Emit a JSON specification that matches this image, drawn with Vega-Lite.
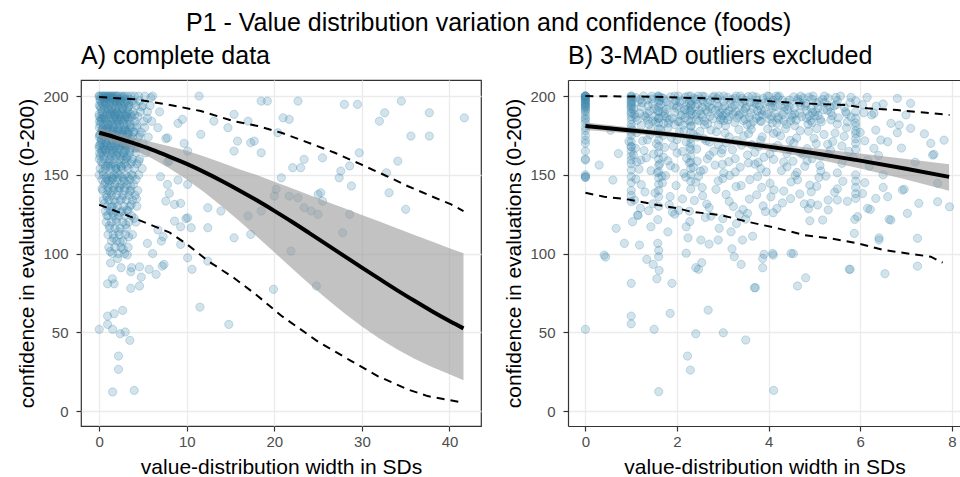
{
  "$schema": "https://vega.github.io/schema/vega-lite/v6.json",
  "background": "white",
  "padding": {"left": 16, "top": 11, "right": 0, "bottom": 0},
  "title": {
    "text": "P1 - Value distribution variation and confidence (foods)",
    "fontSize": 25,
    "anchor": "middle",
    "offset": 7
  },
  "config": {
    "font": "Liberation Sans",
    "view": {"stroke": "#333333", "strokeWidth": 1.2},
    "title": {"font": "Liberation Sans", "fontWeight": "normal", "color": "black"},
    "axis": {
      "labelFont": "Liberation Sans",
      "labelFontSize": 15,
      "labelColor": "#4d4d4d",
      "titleFont": "Liberation Sans",
      "titleFontSize": 21,
      "titleFontWeight": "normal",
      "titleColor": "black",
      "tickColor": "#333333",
      "tickSize": 5,
      "tickWidth": 1.2,
      "domain": false,
      "gridColor": "#ebebeb",
      "gridWidth": 1.3
    },
    "axisX": {"labelPadding": 3, "titlePadding": 7},
    "axisY": {"labelPadding": 8, "titlePadding": 5}
  },
  "datasets": {
    "ptsA": [
      {"x":0,"y":200},{"x":0,"y":200},{"x":0.2,"y":200},{"x":0.4,"y":200},{"x":0.5,"y":200},{"x":0.6,"y":200},{"x":0.8,"y":200},{"x":1,"y":200},{"x":1,"y":200},{"x":1.2,"y":200},{"x":1.4,"y":200},{"x":1.5,"y":200},{"x":1.6,"y":200},{"x":1.8,"y":200},{"x":2,"y":200},{"x":2,"y":200},{"x":2.3,"y":200},{"x":2.6,"y":200},{"x":2.9,"y":200},{"x":3.2,"y":200},{"x":3.6,"y":200},{"x":4,"y":200},{"x":4.5,"y":200},{"x":5.2,"y":200},{"x":6.1,"y":200},
      {"x":0.1,"y":198},{"x":0.5,"y":198},{"x":0.9,"y":198},{"x":1.3,"y":198},{"x":1.7,"y":198},{"x":2.1,"y":198},{"x":2.5,"y":198},{"x":3,"y":198},{"x":3.5,"y":198},
      {"x":0.1,"y":197},{"x":0.7,"y":197},{"x":1.3,"y":197},{"x":1.9,"y":197},{"x":2.5,"y":197},{"x":3.1,"y":197},{"x":3.8,"y":197},{"x":4.6,"y":197},
      {"x":0.3,"y":195.5},{"x":0.8,"y":195.5},{"x":1.2,"y":195.5},{"x":1.6,"y":195.5},{"x":2,"y":195.5},{"x":2.4,"y":195.5},{"x":2.9,"y":195.5},{"x":3.3,"y":195.5},
      {"x":0,"y":194},{"x":0.5,"y":194},{"x":1.1,"y":194},{"x":1.7,"y":194},{"x":2.2,"y":194},{"x":2.8,"y":194},{"x":3.4,"y":194},{"x":4.2,"y":194},{"x":5,"y":194},{"x":5.8,"y":194},
      {"x":0.2,"y":192},{"x":0.6,"y":192},{"x":1,"y":192},{"x":1.4,"y":192},{"x":1.9,"y":192},{"x":2.3,"y":192},{"x":2.7,"y":192},{"x":3.2,"y":192},
      {"x":0.3,"y":190},{"x":0.9,"y":190},{"x":1.5,"y":190},{"x":2,"y":190},{"x":2.6,"y":190},{"x":3.3,"y":190},{"x":3.9,"y":190},{"x":4.7,"y":190},{"x":5.5,"y":190},
      {"x":0,"y":188.5},{"x":0.4,"y":188.5},{"x":0.9,"y":188.5},{"x":1.3,"y":188.5},{"x":1.8,"y":188.5},{"x":2.2,"y":188.5},{"x":2.7,"y":188.5},{"x":3.1,"y":188.5},{"x":3.6,"y":188.5},
      {"x":0,"y":187},{"x":0.6,"y":187},{"x":1.2,"y":187},{"x":1.8,"y":187},{"x":2.4,"y":187},{"x":3,"y":187},{"x":3.7,"y":187},{"x":4.4,"y":187},
      {"x":0.3,"y":185.5},{"x":0.7,"y":185.5},{"x":1.1,"y":185.5},{"x":1.6,"y":185.5},{"x":2,"y":185.5},{"x":2.5,"y":185.5},{"x":2.9,"y":185.5},{"x":3.4,"y":185.5},
      {"x":0.2,"y":184},{"x":0.8,"y":184},{"x":1.4,"y":184},{"x":2.1,"y":184},{"x":2.7,"y":184},{"x":3.5,"y":184},{"x":4.1,"y":184},{"x":5.1,"y":184},{"x":6,"y":184},
      {"x":0.1,"y":182},{"x":0.5,"y":182},{"x":1,"y":182},{"x":1.4,"y":182},{"x":1.9,"y":182},{"x":2.3,"y":182},{"x":2.8,"y":182},{"x":3.2,"y":182},
      {"x":0,"y":180},{"x":0.5,"y":180},{"x":1,"y":180},{"x":1.6,"y":180},{"x":2.2,"y":180},{"x":2.9,"y":180},{"x":3.6,"y":180},{"x":4.3,"y":180},{"x":5.2,"y":180},
      {"x":0.3,"y":178.5},{"x":0.7,"y":178.5},{"x":1.2,"y":178.5},{"x":1.6,"y":178.5},{"x":2.1,"y":178.5},{"x":2.5,"y":178.5},{"x":3,"y":178.5},{"x":3.4,"y":178.5},
      {"x":0.3,"y":177},{"x":0.9,"y":177},{"x":1.5,"y":177},{"x":2,"y":177},{"x":2.6,"y":177},{"x":3.2,"y":177},{"x":3.9,"y":177},{"x":4.8,"y":177},
      {"x":0.1,"y":175.5},{"x":0.5,"y":175.5},{"x":1,"y":175.5},{"x":1.4,"y":175.5},{"x":1.8,"y":175.5},{"x":2.3,"y":175.5},{"x":2.7,"y":175.5},{"x":3.3,"y":175.5},
      {"x":0,"y":174},{"x":0.6,"y":174},{"x":1.2,"y":174},{"x":1.8,"y":174},{"x":2.5,"y":174},{"x":3.1,"y":174},{"x":3.8,"y":174},{"x":4.5,"y":174},{"x":5.6,"y":174},
      {"x":0.2,"y":172},{"x":0.6,"y":172},{"x":1.1,"y":172},{"x":1.5,"y":172},{"x":2,"y":172},{"x":2.4,"y":172},{"x":2.9,"y":172},{"x":3.4,"y":172},
      {"x":0.2,"y":170},{"x":0.8,"y":170},{"x":1.4,"y":170},{"x":2,"y":170},{"x":2.7,"y":170},{"x":3.4,"y":170},{"x":4.1,"y":170},{"x":5,"y":170},
      {"x":0,"y":168.5},{"x":0.5,"y":168.5},{"x":0.9,"y":168.5},{"x":1.3,"y":168.5},{"x":1.8,"y":168.5},{"x":2.2,"y":168.5},{"x":2.6,"y":168.5},{"x":3.1,"y":168.5},
      {"x":0,"y":167},{"x":0.5,"y":167},{"x":1.1,"y":167},{"x":1.7,"y":167},{"x":2.3,"y":167},{"x":3,"y":167},{"x":3.6,"y":167},{"x":4.4,"y":167},
      {"x":0.3,"y":165.5},{"x":0.7,"y":165.5},{"x":1.2,"y":165.5},{"x":1.6,"y":165.5},{"x":2,"y":165.5},{"x":2.5,"y":165.5},{"x":3,"y":165.5},{"x":3.5,"y":165.5},
      {"x":0.3,"y":164},{"x":0.9,"y":164},{"x":1.5,"y":164},{"x":2.1,"y":164},{"x":2.8,"y":164},{"x":3.5,"y":164},{"x":4.2,"y":164},{"x":5.3,"y":164},
      {"x":0.1,"y":162},{"x":0.5,"y":162},{"x":1,"y":162},{"x":1.4,"y":162},{"x":1.9,"y":162},{"x":2.4,"y":162},{"x":2.8,"y":162},{"x":3.3,"y":162},
      {"x":0,"y":160},{"x":0.6,"y":160},{"x":1.2,"y":160},{"x":1.8,"y":160},{"x":2.4,"y":160},{"x":3.1,"y":160},{"x":3.8,"y":160},{"x":4.6,"y":160},
      {"x":0.4,"y":157},{"x":1,"y":157},{"x":1.6,"y":157},{"x":2.2,"y":157},{"x":2.9,"y":157},{"x":3.6,"y":157},{"x":4.3,"y":157},
      {"x":0.7,"y":155.5},{"x":1.3,"y":155.5},{"x":1.9,"y":155.5},{"x":2.5,"y":155.5},{"x":3.1,"y":155.5},
      {"x":0.1,"y":154},{"x":0.7,"y":154},{"x":1.3,"y":154},{"x":1.9,"y":154},{"x":2.6,"y":154},{"x":3.3,"y":154},{"x":4,"y":154},{"x":4.9,"y":154},
      {"x":0,"y":150},{"x":0.5,"y":150},{"x":1.1,"y":150},{"x":1.7,"y":150},{"x":2.3,"y":150},{"x":3,"y":150},{"x":3.7,"y":150},{"x":4.5,"y":150},
      {"x":0.8,"y":148.5},{"x":1.4,"y":148.5},{"x":2,"y":148.5},{"x":2.6,"y":148.5},{"x":3.3,"y":148.5},
      {"x":0.3,"y":147},{"x":0.9,"y":147},{"x":1.5,"y":147},{"x":2.1,"y":147},{"x":2.8,"y":147},{"x":3.5,"y":147},{"x":4.2,"y":147},
      {"x":0.6,"y":144},{"x":1.2,"y":144},{"x":1.8,"y":144},{"x":2.5,"y":144},{"x":3.2,"y":144},{"x":3.9,"y":144},
      {"x":1,"y":142},{"x":1.6,"y":142},{"x":2.2,"y":142},{"x":2.9,"y":142},
      {"x":0.4,"y":140},{"x":1,"y":140},{"x":1.6,"y":140},{"x":2.2,"y":140},{"x":2.9,"y":140},{"x":3.6,"y":140},{"x":4.4,"y":140},
      {"x":0.8,"y":137},{"x":1.4,"y":137},{"x":2,"y":137},{"x":2.7,"y":137},{"x":3.4,"y":137},{"x":4.1,"y":137},
      {"x":0.5,"y":134},{"x":1.1,"y":134},{"x":1.7,"y":134},{"x":2.4,"y":134},{"x":3.1,"y":134},{"x":3.8,"y":134},
      {"x":0.9,"y":130},{"x":1.5,"y":130},{"x":2.1,"y":130},{"x":2.8,"y":130},{"x":3.5,"y":130},{"x":4.3,"y":130},
      {"x":0.7,"y":127},{"x":1.3,"y":127},{"x":1.9,"y":127},{"x":2.6,"y":127},{"x":3.3,"y":127},
      {"x":1,"y":124},{"x":1.6,"y":124},{"x":2.2,"y":124},{"x":2.9,"y":124},{"x":3.7,"y":124},
      {"x":0.8,"y":120},{"x":1.4,"y":120},{"x":2,"y":120},{"x":2.7,"y":120},{"x":3.4,"y":120},{"x":4.2,"y":120},
      {"x":1.2,"y":116},{"x":1.8,"y":116},{"x":2.4,"y":116},{"x":3.1,"y":116},
      {"x":1,"y":112},{"x":1.6,"y":112},{"x":2.3,"y":112},{"x":3,"y":112},{"x":3.8,"y":112},
      {"x":1.4,"y":108},{"x":2,"y":108},{"x":2.7,"y":108},
      {"x":1.1,"y":104},{"x":1.8,"y":104},{"x":2.5,"y":104},{"x":3.3,"y":104},
      {"x":1.5,"y":100},{"x":2.2,"y":100},{"x":2.9,"y":100},
      {"x":0.12,"y":193.4},{"x":0.48,"y":186.1},{"x":0.83,"y":199.2},{"x":1.07,"y":181.7},{"x":1.33,"y":190.8},{"x":1.58,"y":175.9},{"x":1.86,"y":196.4},{"x":2.11,"y":184.3},{"x":2.37,"y":170.6},{"x":2.64,"y":191.9},{"x":2.93,"y":178.2},{"x":3.21,"y":186.7},{"x":3.55,"y":172.9},{"x":3.92,"y":195.6},{"x":4.3,"y":181.4},
      {"x":0.27,"y":172.3},{"x":0.62,"y":165.8},{"x":0.9,"y":179.4},{"x":1.21,"y":158.9},{"x":1.47,"y":168.1},{"x":1.72,"y":186.9},{"x":1.99,"y":162.6},{"x":2.24,"y":177.7},{"x":2.51,"y":155.3},{"x":2.79,"y":168.9},{"x":3.08,"y":161.2},{"x":3.39,"y":176.8},{"x":3.73,"y":158.4},{"x":4.12,"y":166.9},{"x":4.65,"y":175.3},
      {"x":0.05,"y":163.7},{"x":0.41,"y":151.9},{"x":0.7,"y":145.4},{"x":0.98,"y":155.6},{"x":1.26,"y":138.9},{"x":1.52,"y":147.8},{"x":1.8,"y":132.4},{"x":2.06,"y":151.3},{"x":2.33,"y":141.7},{"x":2.6,"y":135.1},{"x":2.88,"y":145.9},{"x":3.17,"y":127.6},{"x":3.5,"y":139.4},{"x":3.85,"y":149.2},{"x":4.25,"y":134.7},
      {"x":0.58,"y":131.8},{"x":0.86,"y":124.1},{"x":1.13,"y":117.6},{"x":1.39,"y":129.3},{"x":1.66,"y":109.8},{"x":1.94,"y":121.7},{"x":2.2,"y":113.9},{"x":2.47,"y":126.2},{"x":2.74,"y":102.8},{"x":3.03,"y":118.4},{"x":3.36,"y":110.5},{"x":3.66,"y":131.1},{"x":4,"y":122.4},{"x":1.25,"y":101.3},{"x":2.1,"y":96.8},
      {"x":0.33,"y":141.2},{"x":0.18,"y":185.7},{"x":0.66,"y":195.3},{"x":1.42,"y":199.1},{"x":2.02,"y":189.5},{"x":2.7,"y":199.4},{"x":3.3,"y":193.1},{"x":4.05,"y":188.1},{"x":4.85,"y":193.2},{"x":5.5,"y":185.9},{"x":5.9,"y":199},{"x":0.38,"y":178.6},{"x":0.79,"y":170.9},{"x":1.62,"y":181.3},{"x":2.43,"y":184.8},
      {"x":3.15,"y":169.5},{"x":3.98,"y":177.3},{"x":0.22,"y":158.4},{"x":1.1,"y":146.2},{"x":1.9,"y":153.9},{"x":2.78,"y":159.7},{"x":3.6,"y":142.8},{"x":4.5,"y":158.6},{"x":1.04,"y":191.4},{"x":1.68,"y":188.2},{"x":2.28,"y":197.3},{"x":2.95,"y":187.9},{"x":3.48,"y":181.9},{"x":0.9,"y":135.7},{"x":1.57,"y":125.6},
      {"x":2.38,"y":107.2},{"x":3.2,"y":99.1},{"x":0.02,"y":183.9},{"x":0.45,"y":198.6},{"x":0.05,"y":175.4},{"x":0.1,"y":168.8},
      {"x":0,"y":51.9},{"x":0.96,"y":60.3},{"x":0.96,"y":55},{"x":1.7,"y":61.8},{"x":2.67,"y":63.9},{"x":1.53,"y":51.9},{"x":2.4,"y":49.1},{"x":2.97,"y":50.2},{"x":3.5,"y":44.9},{"x":2.2,"y":34.9},{"x":2.2,"y":26.5},{"x":1.53,"y":12.1},{"x":4,"y":13.1},
      {"x":11.5,"y":66},{"x":14.8,"y":55},{"x":19.9,"y":77.3},{"x":10.6,"y":90},{"x":7.2,"y":92},{"x":5.7,"y":90},{"x":6.5,"y":86.8},{"x":4.8,"y":85},{"x":4.6,"y":79.4},{"x":3.6,"y":77.9},{"x":0.96,"y":80.8},{"x":1.7,"y":80.8},{"x":1.5,"y":84},{"x":2.5,"y":91},{"x":3.7,"y":91},{"x":1.3,"y":94},{"x":24.8,"y":79.4},{"x":4.6,"y":91.6},{"x":3.6,"y":88.5},
      {"x":18.5,"y":196.8},{"x":19.2,"y":196.8},{"x":22.7,"y":196.8},{"x":28,"y":194.7},{"x":29.5,"y":194.7},{"x":34.5,"y":196.8},{"x":41.7,"y":186.2},{"x":37.7,"y":189.4},{"x":32.6,"y":189.4},{"x":32,"y":184.1},{"x":21,"y":186.2},{"x":21.7,"y":185.2},{"x":20.4,"y":176.7},{"x":35.6,"y":174.6},{"x":37.7,"y":174.6},
      {"x":18.5,"y":164},{"x":23.4,"y":159.8},{"x":25.5,"y":160.8},{"x":29.7,"y":164},{"x":34.1,"y":158.7},{"x":22.1,"y":154.5},{"x":23,"y":154.5},{"x":27.6,"y":152.4},{"x":28.6,"y":155.6},{"x":27.4,"y":148.1},{"x":32.8,"y":151.3},{"x":28.8,"y":142.9},{"x":33.1,"y":138.6},{"x":35,"y":128.1},
      {"x":20.2,"y":140.8},{"x":20,"y":136.5},{"x":21.7,"y":136.5},{"x":22.7,"y":135.4},{"x":23.4,"y":129.1},{"x":24.2,"y":127},{"x":25,"y":124.9},{"x":25.5,"y":133.3},{"x":25,"y":137.6},{"x":25.3,"y":138.6},{"x":28.6,"y":124.9},{"x":27.8,"y":113.2},{"x":21.9,"y":101.6},{"x":17.3,"y":112.2},{"x":18.5,"y":127},{"x":17.7,"y":171.4},{"x":20.8,"y":148.1},
      {"x":11.4,"y":200},{"x":9.5,"y":185.2},{"x":6.7,"y":179.9},{"x":7.8,"y":173.5},{"x":11.6,"y":175.7},{"x":13.1,"y":184.1},{"x":14.7,"y":179.9},{"x":15.8,"y":171.4},{"x":17.3,"y":170.4},{"x":15.4,"y":188.4},{"x":17,"y":184.1},
      {"x":8,"y":158.7},{"x":10.1,"y":165.1},{"x":15.4,"y":165.1},{"x":7.8,"y":143.9},{"x":10.1,"y":143.9},{"x":7.6,"y":133.3},{"x":8.6,"y":131.2},{"x":12.4,"y":129.1},{"x":13.9,"y":127},{"x":17,"y":123.8},{"x":10.1,"y":122.7},{"x":8.6,"y":120.6},{"x":10.5,"y":116.4},{"x":12.4,"y":116.4},{"x":15.4,"y":110},{"x":7.1,"y":107.9},{"x":9.3,"y":105.8},{"x":10.1,"y":97.3},{"x":7.4,"y":93.1},{"x":12.4,"y":95.2},
      {"x":6.9,"y":190},{"x":9,"y":182.7},{"x":7.6,"y":173},{"x":9.7,"y":170},{"x":7.8,"y":158.3},{"x":7,"y":148.8},{"x":9,"y":146.7},{"x":8,"y":138.2},{"x":9.3,"y":131.9},{"x":9.9,"y":122.2},{"x":9.3,"y":117},{"x":6.7,"y":115},{"x":7.3,"y":110.7},{"x":5.5,"y":106.5},{"x":6.1,"y":100}
    ],
    "ptsB": [
      {"x":0,"y":200},{"x":0,"y":200},{"x":0,"y":200},{"x":0,"y":200},{"x":0,"y":200},{"x":0,"y":199},{"x":0,"y":198.5},{"x":0,"y":198},{"x":0,"y":197.5},{"x":0,"y":197},{"x":0,"y":196},{"x":0,"y":195.5},{"x":0,"y":195},{"x":0,"y":194},{"x":0,"y":193.5},{"x":0,"y":193},{"x":0,"y":192},{"x":0,"y":191},{"x":0,"y":190},{"x":0,"y":188},{"x":0,"y":186},{"x":0,"y":185},{"x":0,"y":183},{"x":0,"y":180},{"x":0,"y":178},{"x":0,"y":175},{"x":0,"y":172},{"x":0,"y":170},{"x":0,"y":165},{"x":0,"y":160},{"x":0,"y":159.4},{"x":0,"y":150},{"x":0,"y":149},{"x":0,"y":148.4},{"x":0,"y":148.4},
      {"x":1,"y":200},{"x":1,"y":200},{"x":1,"y":199},{"x":1,"y":198},{"x":1,"y":197},{"x":1,"y":196},{"x":1,"y":195},{"x":1,"y":194},{"x":1,"y":193},{"x":1,"y":192},{"x":1,"y":190},{"x":1,"y":189},{"x":1,"y":187},{"x":1,"y":185},{"x":1,"y":182},{"x":1,"y":180},{"x":1,"y":177},{"x":1,"y":175},{"x":1,"y":171},{"x":1,"y":168},{"x":1,"y":167.8},{"x":1,"y":165},{"x":1,"y":162},{"x":1,"y":159.4},{"x":1,"y":157},{"x":1,"y":153},{"x":1,"y":148.8},{"x":1,"y":145},{"x":1,"y":140},{"x":1,"y":137},{"x":1,"y":133},
      {"x":1.6,"y":200},{"x":1.6,"y":199},{"x":1.6,"y":196},{"x":1.6,"y":193},{"x":1.6,"y":190},{"x":1.6,"y":186},{"x":1.6,"y":183},{"x":1.6,"y":179},{"x":1.6,"y":176},{"x":1.6,"y":172},{"x":1.6,"y":168},{"x":1.6,"y":164},{"x":1.6,"y":160},{"x":1.6,"y":156},{"x":1.6,"y":152},{"x":1.6,"y":148},{"x":1.6,"y":144},{"x":1.6,"y":140},{"x":1.6,"y":136},{"x":1.6,"y":130},
      {"x":2.3,"y":200},{"x":2.3,"y":197},{"x":2.3,"y":194},{"x":2.3,"y":191},{"x":2.3,"y":188},{"x":2.3,"y":184},{"x":2.3,"y":181},{"x":2.3,"y":177},{"x":2.3,"y":173},{"x":2.3,"y":170},{"x":2.3,"y":166},{"x":2.3,"y":162},{"x":2.3,"y":158},{"x":2.3,"y":154},{"x":2.3,"y":150},{"x":2.3,"y":146},{"x":2.3,"y":141},
      {"x":5.9,"y":190},{"x":5.9,"y":186},{"x":5.9,"y":183},{"x":5.9,"y":181},{"x":5.9,"y":178},{"x":5.9,"y":176},{"x":5.9,"y":173},{"x":5.9,"y":170},{"x":5.9,"y":166},{"x":5.9,"y":150},{"x":5.9,"y":146},{"x":5.9,"y":142},{"x":5.9,"y":138},{"x":5.9,"y":135},
      {"x":1.1,"y":199},{"x":1.1,"y":186.5},{"x":1.22,"y":193.2},{"x":1.22,"y":181.4},{"x":1.35,"y":197.6},{"x":1.35,"y":188.9},{"x":1.47,"y":184.2},{"x":1.47,"y":195},{"x":1.58,"y":200},{"x":1.58,"y":190.7},{"x":1.71,"y":187.3},{"x":1.71,"y":182.6},{"x":1.71,"y":198.4},{"x":1.83,"y":194.1},{"x":1.83,"y":185},{"x":1.95,"y":200},{"x":1.95,"y":189.6},{"x":1.95,"y":181.9},
      {"x":2.06,"y":196.2},{"x":2.06,"y":183.7},{"x":2.18,"y":191.5},{"x":2.18,"y":199.3},{"x":2.18,"y":186.2},{"x":2.31,"y":194.8},{"x":2.31,"y":181},{"x":2.42,"y":188.3},{"x":2.42,"y":197.9},{"x":2.42,"y":184.9},{"x":2.55,"y":200},{"x":2.55,"y":192.6},{"x":2.55,"y":186.8},{"x":2.67,"y":195.7},{"x":2.67,"y":182.3},{"x":2.67,"y":189.9},{"x":2.78,"y":199.1},{"x":2.78,"y":185.6},
      {"x":2.9,"y":193.4},{"x":2.9,"y":188.1},{"x":2.9,"y":181.7},{"x":3.02,"y":200},{"x":3.02,"y":196.8},{"x":3.02,"y":184.4},{"x":3.13,"y":190.6},{"x":3.13,"y":186.9},{"x":3.26,"y":198.5},{"x":3.26,"y":183.2},{"x":3.26,"y":194.3},{"x":3.38,"y":188.8},{"x":3.38,"y":200},{"x":3.49,"y":185.3},{"x":3.49,"y":192.1},{"x":3.49,"y":197.2},{"x":3.61,"y":181.6},{"x":3.61,"y":189.4},
      {"x":3.73,"y":199.4},{"x":3.73,"y":194.9},{"x":3.73,"y":186},{"x":3.84,"y":183.8},{"x":3.84,"y":191.2},{"x":3.97,"y":200},{"x":3.97,"y":188.5},{"x":4.08,"y":196.1},{"x":4.08,"y":182.9},{"x":4.08,"y":192.7},{"x":4.2,"y":186.4},{"x":4.2,"y":199},{"x":4.33,"y":190.2},{"x":4.33,"y":184.6},{"x":4.45,"y":197.4},{"x":4.45,"y":193.5},{"x":4.57,"y":181.2},{"x":4.57,"y":188.7},
      {"x":4.7,"y":200},{"x":4.7,"y":194.2},{"x":4.83,"y":185.9},{"x":4.83,"y":190.9},{"x":4.95,"y":198},{"x":4.95,"y":183.1},{"x":5.08,"y":192.4},{"x":5.08,"y":187.6},{"x":5.22,"y":200},{"x":5.22,"y":195.8},{"x":5.36,"y":184.9},{"x":5.36,"y":189.8},{"x":5.5,"y":197.1},{"x":5.5,"y":182.2},{"x":5.65,"y":192.9},{"x":5.8,"y":186.7},{"x":5.8,"y":199.2},{"x":6.05,"y":194.5},{"x":6.25,"y":188},
      {"x":1.15,"y":196.3},{"x":1.4,"y":190.4},{"x":1.65,"y":194.6},{"x":1.9,"y":185.9},{"x":2.12,"y":188.4},{"x":2.37,"y":198.7},{"x":2.6,"y":184.1},{"x":2.84,"y":191.1},{"x":3.07,"y":189.3},{"x":3.31,"y":186.1},{"x":3.55,"y":199.6},{"x":3.79,"y":187.2},{"x":4.02,"y":185.4},{"x":4.26,"y":194},{"x":4.5,"y":187.9},{"x":4.76,"y":198.8},{"x":5.02,"y":190},
      {"x":1.27,"y":200},{"x":1.52,"y":187},{"x":1.77,"y":191.7},{"x":2.01,"y":193.6},{"x":2.25,"y":184.5},{"x":2.49,"y":190.8},{"x":2.73,"y":197},{"x":2.96,"y":186.3},{"x":3.2,"y":192.5},{"x":3.44,"y":195.6},{"x":3.67,"y":183.9},{"x":3.91,"y":195.8},{"x":4.14,"y":189},{"x":4.39,"y":182.1},{"x":4.63,"y":196.9},{"x":4.89,"y":187.4},{"x":5.15,"y":183.6},{"x":5.43,"y":193.8},
      {"x":1.18,"y":189.1},{"x":1.44,"y":198.2},{"x":1.6,"y":185.8},{"x":1.76,"y":196.5},{"x":1.99,"y":192.3},{"x":2.09,"y":187.7},{"x":2.27,"y":195.9},{"x":2.46,"y":200},{"x":2.52,"y":188.6},{"x":2.7,"y":193.1},{"x":2.88,"y":198.3},{"x":3,"y":187.6},{"x":3.17,"y":195.1},{"x":3.29,"y":200},{"x":3.46,"y":190.2},{"x":3.6,"y":196.1},{"x":3.76,"y":190.7},{"x":3.88,"y":198.6},{"x":4.04,"y":193.9},
      {"x":4.17,"y":200},{"x":4.3,"y":197.3},{"x":4.42,"y":191.3},{"x":4.55,"y":199.5},{"x":4.68,"y":189.2},{"x":4.81,"y":195.3},{"x":4.97,"y":200},{"x":5.1,"y":196.4},{"x":5.28,"y":191},{"x":5.47,"y":199.1},{"x":5.7,"y":188.9},{"x":2.03,"y":200},{"x":2.6,"y":199.6},{"x":3.1,"y":199.2},{"x":3.65,"y":200},{"x":4.22,"y":185.3},{"x":4.92,"y":184.4},{"x":1.36,"y":184.7},{"x":2.95,"y":184.9},
      {"x":1.05,"y":191.8},{"x":1.13,"y":184.6},{"x":1.2,"y":197.9},{"x":1.29,"y":187.4},{"x":1.37,"y":193.9},{"x":1.45,"y":200},{"x":1.53,"y":183.5},{"x":1.62,"y":197.1},{"x":1.69,"y":190.3},{"x":1.78,"y":186.1},{"x":1.86,"y":199.5},{"x":1.93,"y":194.4},{"x":2.02,"y":183.9},{"x":2.1,"y":196.9},{"x":2.16,"y":191.1},{"x":2.24,"y":200},
      {"x":2.33,"y":188.8},{"x":2.4,"y":193.3},{"x":2.48,"y":184.3},{"x":2.57,"y":196.6},{"x":2.63,"y":191.4},{"x":2.72,"y":187.1},{"x":2.81,"y":200},{"x":2.87,"y":195.3},{"x":2.94,"y":189.4},{"x":3.04,"y":193.7},{"x":3.11,"y":184.8},{"x":3.19,"y":197.7},{"x":3.28,"y":190.1},{"x":3.35,"y":187.9},{"x":3.42,"y":198.4},{"x":3.51,"y":193},
      {"x":3.58,"y":186.6},{"x":3.66,"y":191.9},{"x":3.74,"y":197.5},{"x":3.82,"y":184.2},{"x":3.9,"y":190.4},{"x":3.99,"y":196.3},{"x":4.06,"y":187.1},{"x":4.15,"y":193.4},{"x":4.23,"y":200},{"x":4.31,"y":188.2},{"x":4.4,"y":196},{"x":4.48,"y":184.3},{"x":4.56,"y":192.5},{"x":4.64,"y":198.2},{"x":4.72,"y":186.9},{"x":4.8,"y":193.7},
      {"x":4.88,"y":199.4},{"x":4.96,"y":189.6},{"x":5.04,"y":195.7},{"x":5.13,"y":185.2},{"x":5.2,"y":191.3},{"x":5.3,"y":198.7},{"x":5.39,"y":187.5},{"x":5.48,"y":194.6},{"x":5.57,"y":200},{"x":5.68,"y":190.1},{"x":5.78,"y":195.9},{"x":6.15,"y":199.1},{"x":6.35,"y":193.6},
      {"x":1.08,"y":188.4},{"x":1.24,"y":195.8},{"x":1.39,"y":182.1},{"x":1.5,"y":191.9},{"x":1.66,"y":199.1},{"x":1.81,"y":182.8},{"x":1.97,"y":197.2},{"x":2.13,"y":181.5},{"x":2.29,"y":190.1},{"x":2.45,"y":194.9},{"x":2.6,"y":181.8},{"x":2.76,"y":192.2},{"x":2.91,"y":200},{"x":3.06,"y":181.3},{"x":3.22,"y":188.7},{"x":3.37,"y":194.6},
      {"x":3.53,"y":181.9},{"x":3.69,"y":195.5},{"x":3.86,"y":188.2},{"x":4.01,"y":199.8},{"x":4.18,"y":182.8},{"x":4.35,"y":193.1},{"x":4.52,"y":186.5},{"x":4.69,"y":195.9},{"x":4.86,"y":182.1},{"x":5.01,"y":187.4},{"x":5.18,"y":197.8},{"x":5.34,"y":193.2},{"x":5.52,"y":186.2},{"x":5.72,"y":183.6},{"x":1.32,"y":186.5},{"x":2.2,"y":193.8},
      {"x":3,"y":191.7},{"x":3.8,"y":194},{"x":4.6,"y":184.7},{"x":2.55,"y":197.5},{"x":3.45,"y":184.5},{"x":4.1,"y":197.2},{"x":1.74,"y":188.8},{"x":4.93,"y":192.3},
      {"x":0.95,"y":171.3},{"x":1.12,"y":176.8},{"x":1.12,"y":158.2},{"x":1.28,"y":165.4},{"x":1.43,"y":178.9},{"x":1.43,"y":152.6},{"x":1.55,"y":169.7},{"x":1.7,"y":161.3},{"x":1.7,"y":175.1},{"x":1.86,"y":155.8},{"x":2,"y":172.4},{"x":2,"y":163.9},{"x":2.15,"y":150.9},{"x":2.15,"y":178.2},{"x":2.28,"y":167.5},{"x":2.44,"y":158.6},{"x":2.44,"y":174},{"x":2.58,"y":153.2},
      {"x":2.71,"y":170.8},{"x":2.71,"y":162.4},{"x":2.86,"y":177.3},{"x":2.99,"y":156.7},{"x":2.99,"y":166.1},{"x":3.14,"y":173.9},{"x":3.27,"y":160.2},{"x":3.27,"y":151.8},{"x":3.41,"y":168.8},{"x":3.56,"y":176.1},{"x":3.56,"y":157.5},{"x":3.7,"y":164.3},{"x":3.83,"y":171.9},{"x":3.83,"y":153.9},{"x":3.98,"y":179.1},{"x":4.11,"y":159.8},{"x":4.11,"y":167.2},
      {"x":4.26,"y":174.7},{"x":4.4,"y":155.1},{"x":4.4,"y":163.3},{"x":4.55,"y":170.2},{"x":4.69,"y":178},{"x":4.84,"y":158.9},{"x":4.84,"y":166.6},{"x":4.99,"y":173.2},{"x":5.14,"y":152.4},{"x":5.14,"y":161.8},{"x":5.29,"y":169.4},{"x":5.45,"y":176.5},{"x":5.6,"y":157.3},{"x":5.75,"y":164.8},{"x":6.1,"y":171.6},{"x":6.4,"y":162.3},{"x":0.72,"y":163.5},{"x":0.55,"y":178.3},{"x":0.3,"y":156.2},
      {"x":1.05,"y":162.7},{"x":1.35,"y":172.2},{"x":1.62,"y":156.9},{"x":1.92,"y":168.2},{"x":2.21,"y":160.5},{"x":2.5,"y":177.6},{"x":2.8,"y":164.9},{"x":3.08,"y":170.3},{"x":3.35,"y":178.7},{"x":3.63,"y":169.1},{"x":3.9,"y":161.1},{"x":4.18,"y":177.2},{"x":4.47,"y":171.8},{"x":4.76,"y":162.9},{"x":5.05,"y":179.4},{"x":5.35,"y":165.6},{"x":5.65,"y":174.4},{"x":2.36,"y":154.7},{"x":3.02,"y":151.2},{"x":3.77,"y":157.9},{"x":4.62,"y":151.5},{"x":1.8,"y":179.6},{"x":2.64,"y":171.6},{"x":4.33,"y":158.1},
      {"x":1.02,"y":178.6},{"x":1.09,"y":166.9},{"x":1.17,"y":153.6},{"x":1.25,"y":171.5},{"x":1.33,"y":160.8},{"x":1.41,"y":175.4},{"x":1.49,"y":163.2},{"x":1.57,"y":151.4},{"x":1.64,"y":179},{"x":1.73,"y":167.4},{"x":1.8,"y":158.9},{"x":1.88,"y":173.6},{"x":1.96,"y":154.3},{"x":2.05,"y":177.1},{"x":2.12,"y":164.8},{"x":2.2,"y":170.9},
      {"x":2.27,"y":157.6},{"x":2.35,"y":176},{"x":2.43,"y":166.3},{"x":2.51,"y":152.3},{"x":2.59,"y":172.9},{"x":2.66,"y":160.1},{"x":2.74,"y":178.4},{"x":2.83,"y":156.2},{"x":2.9,"y":169.2},{"x":2.97,"y":163.8},{"x":3.05,"y":176.5},{"x":3.13,"y":158.3},{"x":3.21,"y":165.9},{"x":3.3,"y":171.8},{"x":3.38,"y":154.9},{"x":3.46,"y":174.7},
      {"x":3.54,"y":162.6},{"x":3.62,"y":178.9},{"x":3.7,"y":156.8},{"x":3.78,"y":167.9},{"x":3.86,"y":174.1},{"x":3.95,"y":151.8},{"x":4.03,"y":163.4},{"x":4.11,"y":176.3},{"x":4.2,"y":168.6},{"x":4.28,"y":152.7},{"x":4.37,"y":179.3},{"x":4.45,"y":166.1},{"x":4.53,"y":158.6},{"x":4.61,"y":173.4},{"x":4.7,"y":163.7},{"x":4.79,"y":155.4},
      {"x":4.87,"y":177.7},{"x":4.95,"y":160.3},{"x":5.04,"y":169.7},{"x":5.12,"y":155.9},{"x":5.21,"y":175.6},{"x":5.3,"y":162.9},{"x":5.4,"y":171.1},{"x":5.5,"y":151.2},{"x":5.6,"y":168.3},{"x":5.7,"y":179.8},{"x":5.85,"y":160.9},{"x":6,"y":176.9},{"x":6.2,"y":155.5},{"x":6.45,"y":172.1},
      {"x":1.1,"y":147.3},{"x":1.3,"y":139.1},{"x":1.48,"y":131.6},{"x":1.68,"y":144.8},{"x":1.85,"y":136.2},{"x":2.04,"y":127.4},{"x":2.19,"y":148.6},{"x":2.38,"y":133.7},{"x":2.55,"y":141.9},{"x":2.74,"y":123.8},{"x":2.9,"y":146.1},{"x":3.07,"y":137.5},{"x":3.23,"y":129.9},{"x":3.4,"y":143.2},{"x":3.58,"y":134.6},{"x":3.76,"y":148.9},{"x":3.93,"y":126.7},{"x":4.12,"y":140.4},{"x":4.3,"y":132.1},
      {"x":4.49,"y":145.5},{"x":4.68,"y":137.8},{"x":4.87,"y":128.5},{"x":5.05,"y":142.7},{"x":5.25,"y":149.2},{"x":5.44,"y":138.9},{"x":5.62,"y":145.9},{"x":1.58,"y":121.5},{"x":2.28,"y":120.3},{"x":3,"y":122.2},{"x":1.2,"y":128.8},{"x":2.65,"y":131.4},{"x":3.5,"y":121.9},{"x":4.05,"y":136},{"x":1.75,"y":149.5},{"x":2.47,"y":149},{"x":3.15,"y":149.6},{"x":3.85,"y":142},{"x":4.58,"y":149.7},
      {"x":1.07,"y":133.9},{"x":1.22,"y":143.7},{"x":1.38,"y":127.2},{"x":1.52,"y":138.5},{"x":1.67,"y":149.1},{"x":1.83,"y":130.9},{"x":1.98,"y":143.2},{"x":2.12,"y":134.7},{"x":2.27,"y":126.9},{"x":2.41,"y":145.3},{"x":2.56,"y":136.7},{"x":2.7,"y":129.2},{"x":2.85,"y":140.8},{"x":3,"y":147.6},{"x":3.14,"y":133.1},{"x":3.29,"y":142.5},{"x":3.44,"y":127.9},{"x":3.59,"y":146.9},{"x":3.74,"y":137.3},
      {"x":3.88,"y":130.2},{"x":4.03,"y":144.6},{"x":4.18,"y":128.6},{"x":4.33,"y":139.7},{"x":4.48,"y":134.9},{"x":4.63,"y":146.8},{"x":4.78,"y":131.5},{"x":4.93,"y":139.2},{"x":5.1,"y":148.3},{"x":5.3,"y":127.7},{"x":5.5,"y":141.1},{"x":5.72,"y":133.2},{"x":6.05,"y":138.1},{"x":1.15,"y":124.2},{"x":1.9,"y":126.3},{"x":2.62,"y":122.9},{"x":3.36,"y":124.7},{"x":4.1,"y":125.9},{"x":4.9,"y":143.4},
      {"x":0,"y":51.9},{"x":0.44,"y":97.8},{"x":1,"y":81.1},{"x":1,"y":60.3},{"x":1,"y":55.4},{"x":1.34,"y":96.3},{"x":1.48,"y":93.1},{"x":1.6,"y":98},{"x":1.61,"y":89.3},{"x":1.56,"y":84},{"x":1.5,"y":51.9},{"x":1.6,"y":12.3},{"x":1.85,"y":62},{"x":1.89,"y":81.1},{"x":2.23,"y":34.9},{"x":2.29,"y":26},{"x":2.41,"y":49.1},{"x":2.41,"y":91},{"x":2.47,"y":90},{"x":2.54,"y":94.2},{"x":2.68,"y":64.1},{"x":3.01,"y":49.7},{"x":3.25,"y":98},{"x":3.4,"y":93.1},{"x":3.5,"y":45.1},{"x":3.71,"y":78.3},{"x":3.87,"y":96.9},{"x":3.87,"y":91},{"x":4.1,"y":99},{"x":4.11,"y":13.1},{"x":4.54,"y":99.9},{"x":4.81,"y":84.6},{"x":4.63,"y":79.4},{"x":5.78,"y":90},{"x":6.54,"y":87.2},{"x":7.25,"y":92},{"x":2.2,"y":100.2},
      {"x":0.6,"y":146.7},{"x":1.21,"y":159.4},{"x":0.67,"y":116},{"x":1.03,"y":120.2},{"x":1.14,"y":124.4},{"x":0.85,"y":106.5},{"x":1.18,"y":105.4},{"x":1.58,"y":106.5},{"x":1.6,"y":102},{"x":1.8,"y":113.8},{"x":1.43,"y":117},{"x":1.95,"y":125},{"x":2.2,"y":117},{"x":2.24,"y":110},{"x":2.52,"y":108.6},{"x":2.7,"y":106},{"x":2.92,"y":116},{"x":2.9,"y":108.6},{"x":3.18,"y":113.8},{"x":3.3,"y":119},{"x":3.43,"y":108.6},{"x":3.65,"y":111},{"x":3.54,"y":125.5},{"x":3.2,"y":103},{"x":0.41,"y":99},
      {"x":6.81,"y":198.5},{"x":7.1,"y":195.4},{"x":6.67,"y":182.7},{"x":6.85,"y":181.6},{"x":7.1,"y":179.5},{"x":6.6,"y":171},{"x":6.34,"y":178.4},{"x":7.54,"y":170},{"x":7.83,"y":172},{"x":7.58,"y":162.5},{"x":6.3,"y":166.8},{"x":6.16,"y":159.4},{"x":6.92,"y":140.3},{"x":6.6,"y":136.1},{"x":6.34,"y":135},{"x":6.16,"y":128.7},{"x":6.5,"y":142},{"x":7.28,"y":131.9},{"x":7.69,"y":132.9},{"x":7.95,"y":129.7},{"x":7.69,"y":144.6},
      {"x":7.03,"y":125.5},{"x":6.67,"y":121.3},{"x":5.94,"y":123.4},{"x":7.25,"y":109.7},{"x":6.41,"y":108.6},{"x":5.87,"y":112.8},{"x":5.18,"y":121.3},{"x":4.9,"y":120.8},{"x":5.07,"y":130.8},{"x":5.3,"y":134},{"x":5.5,"y":134},{"x":4.92,"y":131.9},{"x":4.49,"y":100.1},{"x":4.09,"y":100.1},{"x":3.9,"y":99.5},{"x":5.76,"y":90},{"x":3.69,"y":78.3},{"x":6.22,"y":128},{"x":6.63,"y":121.7},{"x":5.88,"y":121.7},{"x":6.41,"y":110},
      {"x":6.5,"y":195},{"x":7,"y":188},{"x":5.9,"y":197},{"x":6.3,"y":189},{"x":7.4,"y":176},{"x":6.9,"y":167},{"x":7.2,"y":158},{"x":6.5,"y":150},{"x":6.1,"y":145},{"x":6.08,"y":189.4},{"x":6.81,"y":176.7},{"x":7.61,"y":163},{"x":6.96,"y":140.8}
    ],
    "fitA": [
      {"x":0,"y":176.7,"lo":173.4,"hi":179.7},
      {"x":2,"y":173.5,"lo":170.1,"hi":176.6},
      {"x":4,"y":169.9,"lo":165.8,"hi":173.6},
      {"x":6,"y":166,"lo":160.5,"hi":170.8},
      {"x":8,"y":161.6,"lo":154.2,"hi":168.1},
      {"x":10,"y":156.9,"lo":147,"hi":165.3},
      {"x":12,"y":151.7,"lo":138.9,"hi":161.6},
      {"x":14,"y":146.1,"lo":130.1,"hi":157.6},
      {"x":16,"y":140.1,"lo":120.7,"hi":153.6},
      {"x":18,"y":133.8,"lo":110.9,"hi":149.8},
      {"x":20,"y":127.1,"lo":100.8,"hi":145.6},
      {"x":22,"y":120.2,"lo":90.6,"hi":141.4},
      {"x":24,"y":113,"lo":80.7,"hi":137.2},
      {"x":26,"y":105.7,"lo":71.1,"hi":132.9},
      {"x":28,"y":98.4,"lo":62.1,"hi":128.7},
      {"x":30,"y":91.1,"lo":53.7,"hi":124.5},
      {"x":32,"y":83.9,"lo":46.1,"hi":120.3},
      {"x":34,"y":76.8,"lo":39.2,"hi":116.1},
      {"x":36,"y":70,"lo":33.2,"hi":111.8},
      {"x":38,"y":63.4,"lo":27.9,"hi":107.6},
      {"x":40,"y":57.2,"lo":23.3,"hi":103.4},
      {"x":41.6,"y":52.5,"lo":19.5,"hi":100.2}
    ],
    "qA": [
      {"q":"upper","x":0,"y":199.4},{"q":"upper","x":4,"y":198},{"q":"upper","x":7.8,"y":194.7},{"q":"upper","x":11.6,"y":190.5},{"q":"upper","x":15.4,"y":184},{"q":"upper","x":18.1,"y":181},{"q":"upper","x":20.8,"y":176.7},{"q":"upper","x":23.4,"y":171.4},{"q":"upper","x":26.9,"y":164},{"q":"upper","x":29.9,"y":156.6},{"q":"upper","x":33.3,"y":148},{"q":"upper","x":35.2,"y":142.9},{"q":"upper","x":37.9,"y":136.5},{"q":"upper","x":40.2,"y":131.2},{"q":"upper","x":41.6,"y":127},
      {"q":"lower","x":0,"y":131},{"q":"lower","x":4,"y":122.5},{"q":"lower","x":8,"y":113.5},{"q":"lower","x":10,"y":106},{"q":"lower","x":12.5,"y":95},{"q":"lower","x":15.4,"y":84.5},{"q":"lower","x":18,"y":73.5},{"q":"lower","x":20.8,"y":60.5},{"q":"lower","x":25,"y":44},{"q":"lower","x":28.8,"y":31.7},{"q":"lower","x":31.8,"y":22.2},{"q":"lower","x":35.2,"y":13.8},{"q":"lower","x":37.5,"y":9.5},{"q":"lower","x":41.6,"y":5.3}
    ],
    "fitB": [
      {"x":0,"y":181,"lo":178.5,"hi":183.2},
      {"x":1,"y":178.2,"lo":176.2,"hi":180.1},
      {"x":2,"y":175.2,"lo":173.5,"hi":176.8},
      {"x":3,"y":171.7,"lo":170,"hi":173.4},
      {"x":4,"y":167.9,"lo":165.5,"hi":170.1},
      {"x":5,"y":163.7,"lo":160.2,"hi":166.9},
      {"x":6,"y":159,"lo":154,"hi":163.6},
      {"x":7,"y":153.9,"lo":147,"hi":160.1},
      {"x":7.94,"y":148.7,"lo":139.8,"hi":156.7}
    ],
    "qB": [
      {"q":"upper","x":0,"y":200},{"q":"upper","x":1.5,"y":199.6},{"q":"upper","x":3,"y":198.2},{"q":"upper","x":3.61,"y":197.5},{"q":"upper","x":4.7,"y":195.4},{"q":"upper","x":5.72,"y":194.3},{"q":"upper","x":6.16,"y":192.2},{"q":"upper","x":6.81,"y":191.1},{"q":"upper","x":7.39,"y":189.6},{"q":"upper","x":7.95,"y":188},
      {"q":"lower","x":0,"y":138.6},{"q":"lower","x":0.41,"y":136.1},{"q":"lower","x":0.92,"y":134.4},{"q":"lower","x":1.58,"y":130.8},{"q":"lower","x":2.02,"y":128.7},{"q":"lower","x":2.3,"y":126.6},{"q":"lower","x":2.96,"y":124.4},{"q":"lower","x":3.54,"y":120.2},{"q":"lower","x":4.2,"y":116},{"q":"lower","x":4.78,"y":111.7},{"q":"lower","x":5.36,"y":109.6},{"q":"lower","x":5.94,"y":106.5},{"q":"lower","x":6.52,"y":102.2},{"q":"lower","x":7.03,"y":100.1},{"q":"lower","x":7.54,"y":98},{"q":"lower","x":7.8,"y":94.2}
    ]
  },
  "spacing": 87,
  "bounds": "flush",
  "hconcat": [
    {
      "width": 400,
      "height": 346,
      "title": {"text": "A) complete data", "anchor": "start", "frame": "group", "fontSize": 25, "offset": 11},
      "resolve": {"axis": {"x": "independent", "y": "independent"}},
      "layer": [
        {
          "data": {"name": "ptsA"},
          "mark": {"type": "circle", "size": 68, "fill": "#3e88ab", "fillOpacity": 0.23, "stroke": "#3e88ab", "strokeOpacity": 0.27, "strokeWidth": 1},
          "encoding": {
            "x": {"field": "x", "type": "quantitative", "scale": {"domain": [-2.08, 43.6], "nice": false, "zero": false},
                  "axis": {"values": [0, 10, 20, 30, 40], "title": "value-distribution width in SDs"}},
            "y": {"field": "y", "type": "quantitative", "scale": {"domain": [-9.5, 210.2], "nice": false, "zero": false},
                  "axis": {"values": [0, 50, 100, 150, 200], "title": "confidence in evaluations (0-200)"}}
          }
        },
        {
          "data": {"name": "fitA"},
          "mark": {"type": "area", "color": "#999999", "opacity": 0.6},
          "encoding": {
            "x": {"field": "x", "type": "quantitative", "scale": {"domain": [-2.08, 43.6], "nice": false, "zero": false},
                  "axis": {"orient": "top", "values": [5, 15, 25, 35], "labels": false, "ticks": false, "domain": false, "title": null, "gridWidth": 0.7}},
            "y": {"field": "lo", "type": "quantitative", "scale": {"domain": [-9.5, 210.2], "nice": false, "zero": false},
                  "axis": {"orient": "right", "values": [25, 75, 125, 175], "labels": false, "ticks": false, "domain": false, "title": null, "gridWidth": 0.7}},
            "y2": {"field": "hi"}
          }
        },
        {
          "data": {"name": "fitA"},
          "mark": {"type": "line", "color": "black", "strokeWidth": 4, "interpolate": "monotone"},
          "encoding": {
            "x": {"field": "x", "type": "quantitative", "scale": {"domain": [-2.08, 43.6], "nice": false, "zero": false}, "axis": null},
            "y": {"field": "y", "type": "quantitative", "scale": {"domain": [-9.5, 210.2], "nice": false, "zero": false}, "axis": null}
          }
        },
        {
          "data": {"name": "qA"},
          "mark": {"type": "line", "color": "black", "strokeWidth": 2, "strokeDash": [8, 6]},
          "encoding": {
            "x": {"field": "x", "type": "quantitative", "scale": {"domain": [-2.08, 43.6], "nice": false, "zero": false}, "axis": null},
            "y": {"field": "y", "type": "quantitative", "scale": {"domain": [-9.5, 210.2], "nice": false, "zero": false}, "axis": null},
            "detail": {"field": "q", "type": "nominal"}
          }
        }
      ]
    },
    {
      "width": 393,
      "height": 346,
      "view": {"stroke": null},
      "title": {"text": "B) 3-MAD outliers excluded", "anchor": "start", "frame": "group", "fontSize": 25, "offset": 11},
      "resolve": {"axis": {"x": "independent", "y": "independent"}},
      "layer": [
        {
          "data": {"name": "ptsB"},
          "mark": {"type": "circle", "size": 68, "fill": "#3e88ab", "fillOpacity": 0.23, "stroke": "#3e88ab", "strokeOpacity": 0.27, "strokeWidth": 1},
          "encoding": {
            "x": {"field": "x", "type": "quantitative", "scale": {"domain": [-0.38, 8.2], "nice": false, "zero": false},
                  "axis": {"values": [0, 2, 4, 6, 8], "title": "value-distribution width in SDs", "domain": true, "domainColor": "#333333", "domainWidth": 1.2}},
            "y": {"field": "y", "type": "quantitative", "scale": {"domain": [-9.5, 210.2], "nice": false, "zero": false},
                  "axis": {"values": [0, 50, 100, 150, 200], "title": "confidence in evaluations (0-200)", "domain": true, "domainColor": "#333333", "domainWidth": 1.2}}
          }
        },
        {
          "data": {"name": "fitB"},
          "mark": {"type": "area", "color": "#999999", "opacity": 0.6},
          "encoding": {
            "x": {"field": "x", "type": "quantitative", "scale": {"domain": [-0.38, 8.2], "nice": false, "zero": false},
                  "axis": {"orient": "top", "values": [1, 3, 5, 7], "labels": false, "ticks": false, "domain": true, "domainColor": "#333333", "domainWidth": 1.2, "title": null, "gridWidth": 0.7}},
            "y": {"field": "lo", "type": "quantitative", "scale": {"domain": [-9.5, 210.2], "nice": false, "zero": false},
                  "axis": {"orient": "right", "values": [25, 75, 125, 175], "labels": false, "ticks": false, "domain": false, "title": null, "gridWidth": 0.7}},
            "y2": {"field": "hi"}
          }
        },
        {
          "data": {"name": "fitB"},
          "mark": {"type": "line", "color": "black", "strokeWidth": 4, "interpolate": "monotone"},
          "encoding": {
            "x": {"field": "x", "type": "quantitative", "scale": {"domain": [-0.38, 8.2], "nice": false, "zero": false}, "axis": null},
            "y": {"field": "y", "type": "quantitative", "scale": {"domain": [-9.5, 210.2], "nice": false, "zero": false}, "axis": null}
          }
        },
        {
          "data": {"name": "qB"},
          "mark": {"type": "line", "color": "black", "strokeWidth": 2, "strokeDash": [8, 6]},
          "encoding": {
            "x": {"field": "x", "type": "quantitative", "scale": {"domain": [-0.38, 8.2], "nice": false, "zero": false}, "axis": null},
            "y": {"field": "y", "type": "quantitative", "scale": {"domain": [-9.5, 210.2], "nice": false, "zero": false}, "axis": null},
            "detail": {"field": "q", "type": "nominal"}
          }
        }
      ]
    }
  ]
}
